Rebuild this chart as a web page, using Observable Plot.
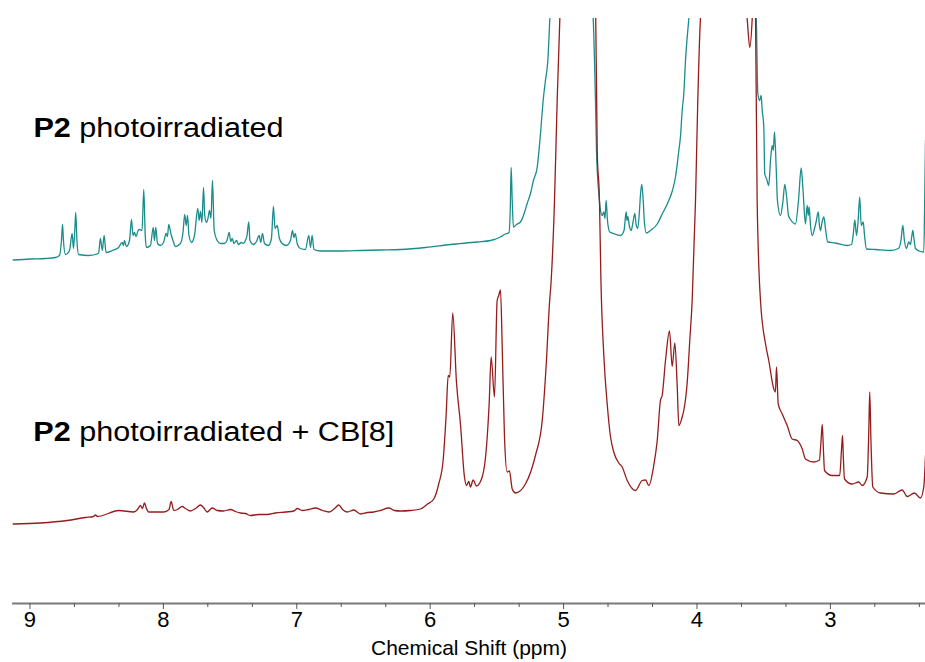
<!DOCTYPE html>
<html><head><meta charset="utf-8">
<script src="https://cdn.jsdelivr.net/npm/d3@7"></script>
<script src="https://cdn.jsdelivr.net/npm/@observablehq/plot@0.6"></script>
<style>html,body{margin:0;padding:0;background:#fff;} svg{display:block}</style>
</head><body><div id="chart"></div>
<script>
// Chemical shift (ppm) and intensity (arbitrary units, common vertical scale)
const tealPpm = [9.126,8.996,8.884,8.809,8.779,8.764,8.756,8.749,8.734,8.704,8.684,8.674,8.664,8.657,8.648,8.636,8.561,8.486,8.472,8.458,8.444,8.430,8.382,8.336,8.309,8.299,8.292,8.277,8.254,8.239,8.228,8.217,8.205,8.189,8.179,8.160,8.147,8.136,8.127,8.097,8.076,8.067,8.057,8.044,8.022,7.999,7.979,7.969,7.960,7.942,7.928,7.909,7.872,7.853,7.840,7.829,7.819,7.808,7.789,7.767,7.742,7.732,7.722,7.711,7.699,7.690,7.677,7.666,7.654,7.643,7.632,7.619,7.597,7.572,7.542,7.523,7.507,7.495,7.484,7.471,7.452,7.437,7.417,7.400,7.385,7.373,7.360,7.351,7.325,7.302,7.282,7.270,7.257,7.242,7.212,7.190,7.175,7.163,7.147,7.130,7.109,7.077,7.047,7.032,7.022,7.012,6.995,6.972,6.935,6.910,6.897,6.885,6.871,6.822,6.672,6.522,6.373,6.223,6.035,5.848,5.648,5.548,5.473,5.436,5.409,5.400,5.393,5.385,5.376,5.353,5.323,5.293,5.273,5.248,5.226,5.198,5.173,5.153,5.136,5.118,5.103,4.941,4.778,4.761,4.753,4.736,4.723,4.711,4.699,4.690,4.681,4.671,4.654,4.626,4.573,4.547,4.531,4.525,4.519,4.506,4.493,4.480,4.466,4.455,4.444,4.431,4.424,4.414,4.403,4.394,4.379,4.349,4.298,4.259,4.211,4.184,4.161,4.136,4.124,4.111,4.099,4.086,4.061,3.824,3.556,3.544,3.531,3.519,3.511,3.499,3.492,3.479,3.462,3.449,3.436,3.428,3.419,3.406,3.397,3.374,3.355,3.342,3.329,3.314,3.294,3.262,3.239,3.219,3.205,3.187,3.174,3.166,3.159,3.149,3.136,3.119,3.108,3.091,3.082,3.074,3.063,3.049,3.037,3.020,2.962,2.874,2.842,2.827,2.817,2.804,2.793,2.780,2.769,2.754,2.744,2.729,2.662,2.549,2.490,2.471,2.457,2.445,2.430,2.412,2.400,2.390,2.382,2.375,2.362,2.325,2.300,2.293,2.287];
const tealInt = [68.7,68.9,69.0,69.2,69.6,72.6,75.8,72.6,69.8,70.6,74.0,71.0,74.6,78.2,72.6,69.8,69.6,70.0,73.0,70.6,73.6,70.2,70.6,71.2,72.2,71.6,72.6,71.4,72.6,76.8,73.6,74.2,73.4,74.6,74.8,74.6,82.8,73.6,71.2,71.6,75.2,72.6,75.2,72.0,71.6,72.2,74.0,73.4,75.8,73.8,72.6,71.4,72.0,74.2,77.8,75.6,77.6,73.6,72.2,73.6,79.0,76.6,78.4,76.2,83.2,77.6,76.2,77.0,78.6,77.0,84.6,74.6,72.6,72.0,72.0,72.6,74.2,72.4,73.0,72.0,72.6,71.8,72.2,72.0,72.6,73.6,76.3,72.6,71.8,72.4,73.6,72.2,74.0,72.0,71.6,73.0,79.4,75.0,75.6,73.0,72.0,71.6,72.6,74.6,73.2,74.0,71.8,71.0,70.8,73.6,71.2,73.6,70.8,70.5,70.5,70.6,70.7,70.8,71.2,71.8,72.3,72.6,73.3,73.9,74.2,78.6,87.2,80.6,75.3,75.8,76.3,78.2,80.0,82.0,84.6,87.2,94.0,100.6,104.6,108.6,117,160,117,100.6,90.6,82.0,78.6,77.6,78.3,77.0,80.6,76.6,74.3,74.0,73.6,74.6,78.3,76.6,77.4,75.4,74.6,76.2,78.0,75.6,75.0,78.6,81.6,83.8,80.6,76.2,74.1,74.6,75.9,78.0,80.6,82.6,85.3,90.6,93.3,98.6,101.9,108.6,117,160,117,102.0,100.6,101.6,98.6,95.3,85.9,85.0,83.6,88.6,91.6,90.6,94.3,86.9,80.6,77.6,80.6,83.8,81.6,77.6,76.6,75.9,80.6,87.1,82.6,75.9,79.6,77.6,79.3,75.6,73.6,75.0,76.2,78.3,75.6,74.6,76.2,77.3,75.0,72.3,72.1,71.6,71.8,74.2,76.7,73.6,76.2,81.3,75.6,76.3,73.6,70.9,70.8,70.6,71.0,72.6,75.6,72.6,71.0,72.3,71.8,73.4,74.6,73.3,71.0,70.4,70.3,80.6,92.6];

const redPpm = [9.126,8.921,8.721,8.584,8.524,8.509,8.494,8.334,8.222,8.194,8.172,8.157,8.142,8.127,8.109,7.997,7.958,7.942,7.922,7.894,7.859,7.834,7.797,7.759,7.722,7.699,7.672,7.634,7.597,7.549,7.497,7.460,7.422,7.385,7.347,7.287,7.222,7.160,7.085,7.022,6.995,6.960,6.912,6.860,6.807,6.760,6.717,6.685,6.657,6.622,6.573,6.522,6.470,6.423,6.373,6.310,6.268,6.223,6.148,6.073,6.020,5.973,5.936,5.903,5.880,5.865,5.853,5.831,5.803,5.773,5.743,5.728,5.711,5.698,5.678,5.653,5.610,5.578,5.558,5.543,5.518,5.498,5.486,5.473,5.460,5.443,5.423,5.406,5.385,5.361,5.286,5.211,5.160,5.130,5.106,5.093,5.068,5.048,5.028,4.896,4.759,4.748,4.731,4.720,4.699,4.673,4.648,4.624,4.586,4.561,4.523,4.461,4.411,4.386,4.361,4.324,4.298,4.274,4.261,4.236,4.206,4.186,4.166,4.148,4.136,4.111,4.099,4.073,4.054,4.036,4.011,3.994,3.974,3.801,3.624,3.604,3.586,3.574,3.561,3.549,3.524,3.486,3.462,3.424,3.412,3.404,3.391,3.361,3.324,3.286,3.249,3.211,3.187,3.124,3.082,3.070,3.061,3.052,3.044,2.987,2.930,2.917,2.909,2.902,2.894,2.837,2.787,2.762,2.724,2.712,2.705,2.696,2.682,2.624,2.525,2.462,2.424,2.370,2.325,2.300,2.287];
const redInt = [15.9,16.1,16.6,17.2,17.4,17.7,17.4,18.6,18.3,18.8,19.6,19.0,20.1,19.0,18.3,18.3,18.8,20.4,18.6,18.8,19.4,19.0,18.5,19.0,19.7,19.2,18.3,19.1,18.6,18.5,18.8,18.4,18.1,18.0,17.6,17.8,17.8,18.1,18.3,18.5,19.0,18.6,18.8,19.1,18.6,18.3,19.0,19.7,18.8,18.3,18.7,17.9,18.2,18.3,18.6,19.1,18.6,18.5,18.6,18.9,19.9,20.9,23.9,28.6,37.9,45.6,45.3,58.1,44.3,35.9,25.3,23.6,24.4,23.3,24.7,23.5,25.3,31.3,39.9,49.3,41.3,60.6,61.6,62.7,51.3,33.3,26.3,26.5,22.9,22.1,23.9,29.6,36.6,47.9,59.9,64.6,80.6,100.6,117,160,117,90.6,80.6,64.6,49.9,39.9,33.3,30.3,28.1,27.3,24.6,22.6,24.6,24.7,23.6,27.6,32.6,40.6,41.6,48.6,54.5,47.4,52.1,43.3,35.6,37.3,38.6,44.3,52.6,60.6,80.6,100.6,117,160,117,111.2,117,125,117,80.6,60.6,51.9,48.6,42.9,42.3,47.3,39.9,37.9,35.6,32.9,32.6,30.9,28.9,28.3,28.7,32.6,35.8,30.6,26.6,25.6,25.6,30.6,33.6,28.6,24.9,23.9,24.3,23.6,25.3,34.6,42.3,32.6,23.3,22.1,21.9,22.7,21.4,22.1,21.1,23.3,29.6];

const majorTicks = [9, 8, 7, 6, 5, 4, 3];
const minorTicks = [8.667, 8.333, 7.667, 7.333, 6.667, 6.333, 5.667, 5.333, 4.667, 4.333, 3.667, 3.333, 2.667, 2.333];
const seriesNames = ["P2 photoirradiated", "P2 photoirradiated + CB[8]"];
const axisTitle = "Chemical Shift (ppm)";

const teal = tealPpm.map((p, i) => ({ppm: p, v: tealInt[i]}));
const red = redPpm.map((p, i) => ({ppm: p, v: redInt[i]}));
const labelData = [
  {ppm: 8.974, v: 95.1, text: seriesNames[0]},
  {ppm: 8.975, v: 34.3, text: seriesNames[1]}
];

const font = "'Liberation Sans', Arial, Helvetica, sans-serif";
const chart = Plot.plot({
  width: 925, height: 662,
  marginLeft: 12, marginRight: 0, marginTop: 18, marginBottom: 59,
  style: {fontFamily: font, background: "#fff", color: "#000"},
  x: {domain: [9.131, 2.287]},
  y: {domain: [0, 117], axis: null},
  marks: [
    Plot.line(teal, {x: "ppm", y: "v", stroke: "#1a8c8c", strokeWidth: 1.3, curve: "monotone-x", clip: true}),
    Plot.line(red, {x: "ppm", y: "v", stroke: "#961c1c", strokeWidth: 1.3, curve: "monotone-x", clip: true}),
    Plot.ruleY([0], {stroke: "#7a7a7a", strokeWidth: 2}),
    Plot.axisX({ticks: minorTicks, tickSize: 4, tickFormat: () => "", label: null, stroke: "#555"}),
    Plot.axisX({ticks: majorTicks, tickSize: 6, tickPadding: 2, fontSize: 22, label: null, stroke: "#555", tickFormat: d => String(d)}),
    Plot.text([axisTitle], {frameAnchor: "bottom", dy: 45, lineAnchor: "middle", fontSize: 21, fill: "#000"}),
    Plot.text(labelData, {x: "ppm", y: "v", text: "text", textAnchor: "start", lineAnchor: "middle", fontSize: 27, fill: "#000"})
  ]
});
document.getElementById("chart").appendChild(chart);

// bold "P2" within the series labels and match their widths
const widths = {"P2 photoirradiated": 250, "P2 photoirradiated + CB[8]": 361};
chart.querySelectorAll("text").forEach(t => {
  const s = t.textContent;
  if (widths[s]) {
    t.textContent = "";
    const b = document.createElementNS("http://www.w3.org/2000/svg", "tspan");
    b.setAttribute("font-weight", "bold");
    b.textContent = "P2";
    t.appendChild(b);
    t.appendChild(document.createTextNode(s.slice(2)));
    t.setAttribute("textLength", widths[s]);
    t.setAttribute("lengthAdjust", "spacingAndGlyphs");
  }
});
</script>
</body></html>
